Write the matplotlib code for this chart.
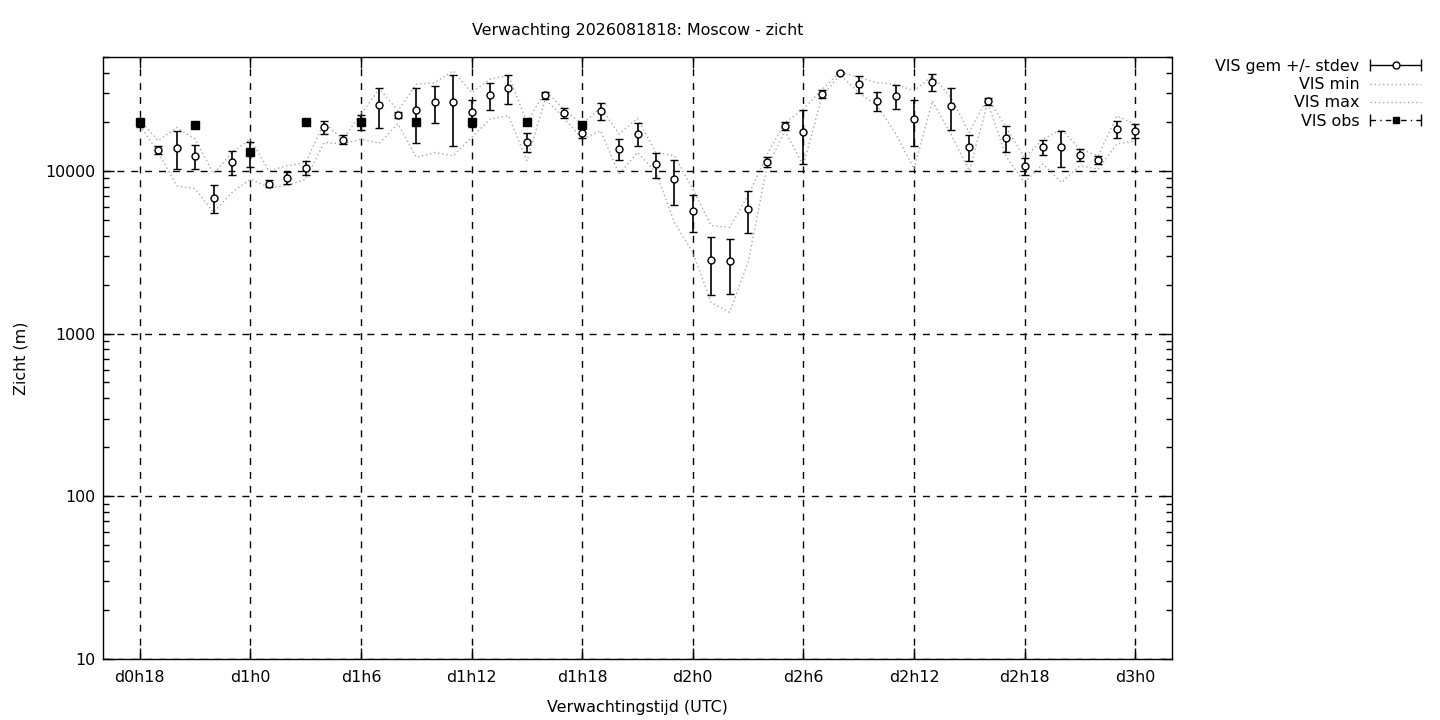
"""Ensemble visibility forecast plot (gnuplot look) for Moscow."""

import matplotlib
matplotlib.use("Agg")
import matplotlib.pyplot as plt
import numpy as np
from matplotlib.legend_handler import HandlerLine2D
from matplotlib.lines import Line2D
from matplotlib.ticker import FixedLocator, LogLocator, NullFormatter

# forecast hours since d0h0
hours = list(range(18, 73))

vis_mean = [19600, 13450, 13840, 12300, 6830, 11360, 12800, 8320, 9060, 10430,
            18540, 15490, 19950, 25290, 22060, 23550, 26480, 26480, 22900, 29140,
            32300, 15060, 29140, 22600, 17110, 23340, 13640, 16870, 10990, 8890,
            5680, 2830, 2770, 5820, 11310, 18800, 17350, 29700, 39750, 34200,
            26880, 28870, 20760, 35150, 24930, 13980, 26770, 15870, 10680, 13980,
            13980, 12480, 11680, 18020, 17530]

vis_sd = [1100, 760, 3650, 2100, 1330, 1930, 2260, 400, 710, 1020,
          1680, 980, 2110, 7000, 1030, 8660, 6800, 12300, 4260, 5470,
          6450, 2070, 1440, 1550, 1240, 2780, 2040, 2720, 1920, 2760,
          1450, 1100, 1030, 1700, 800, 1030, 6300, 1700, 500, 4200,
          3700, 4800, 6500, 4300, 7200, 2500, 1300, 2840, 1280, 1420,
          3500, 1080, 600, 2230, 1740]

vis_min = [19000, 12950, 8090, 7750, 5550, 7360, 8890, 7900, 8090, 8890,
           14920, 14590, 15640, 14800, 19430, 12070, 12950, 12360, 16020, 20760,
           21730, 11520, 27560, 21210, 15640, 17600, 9550, 12950, 9760, 4820,
           3150, 1550, 1350, 2740, 10240, 17600, 10730, 28500, 39000, 30200,
           25060, 17000, 10240, 26880, 16800, 10000, 26250, 12200, 8500, 11000,
           8480, 10730, 10240, 14590, 15290]

vis_max = [20500, 15290, 18440, 15640, 9590, 12950, 15640, 10000, 10730, 11240,
           19800, 15640, 22280, 32000, 23340, 34000, 34780, 41100, 30200, 36550,
           38650, 19800, 30960, 23900, 19340, 24440, 16800, 21000, 12950, 12360,
           7720, 4600, 4490, 7030, 12360, 19800, 23900, 31500, 40500, 37400,
           34800, 34000, 30960, 38300, 28200, 17200, 28200, 18440, 12070, 15640,
           18000, 13550, 12360, 21730, 19340]

obs_hours = [18, 21, 24, 27, 30, 33, 36, 39, 42]
vis_obs = [20000, 19200, 13000, 20000, 20000, 20000, 20000, 20000, 19000]

tick_hours = [18, 24, 30, 36, 42, 48, 54, 60, 66, 72]
tick_labels = [f"d{h // 24}h{h % 24}" for h in tick_hours]

FS = 11.4
plt.rcParams["font.family"] = ["DejaVu Sans"]
plt.rcParams["font.size"] = FS

fig = plt.figure(figsize=(14.4, 7.2), dpi=100)
ax = fig.add_axes([103 / 1440, 1 - 659 / 720, (1172 - 103) / 1440, (659 - 57) / 720])

gray = "#a8a8a8"
ax.plot(hours, vis_min, color=gray, lw=1, ls=(0, (1, 2)), zorder=2)
ax.plot(hours, vis_max, color=gray, lw=1, ls=(0, (1, 2)), zorder=2)

ax.errorbar(hours, vis_mean, yerr=vis_sd, fmt="o", ms=5, mfc="white", mec="black",
            mew=1, ecolor="black", elinewidth=1.2, capsize=3, capthick=1.2, zorder=3)
ax.plot(obs_hours, vis_obs, "s", ms=5.5, color="black", zorder=4)

ax.set_yscale("log")
ax.set_ylim(10, 50000)
ax.set_xlim(16, 74)

ax.yaxis.set_major_locator(FixedLocator([10, 100, 1000, 10000]))
ax.set_yticklabels(["10", "100", "1000", "10000"])
ax.yaxis.set_minor_locator(LogLocator(base=10, subs=np.arange(2, 10)))
ax.yaxis.set_minor_formatter(NullFormatter())
ax.set_xticks(tick_hours)
ax.set_xticklabels(tick_labels)

ax.tick_params(which="major", direction="in", length=8, width=1, top=True, right=True)
ax.tick_params(axis="x", which="major", pad=8)
ax.tick_params(axis="y", which="major", pad=5.5)
ax.tick_params(which="minor", direction="in", length=4, width=1, right=True)
ax.tick_params(axis="x", which="minor", bottom=False, top=False)

ax.grid(True, which="major", color="black", lw=1, ls=(0, (5, 5)))
for s in ax.spines.values():
    s.set_linewidth(1)

ax.set_title("Verwachting 2026081818: Moscow - zicht", fontsize=FS, pad=16)
ax.set_xlabel("Verwachtingstijd (UTC)", fontsize=FS, labelpad=11)
ax.set_ylabel("Zicht (m)", fontsize=FS, labelpad=12)

# gnuplot style legend: label on the left, sample on the right
mean_caps = Line2D([], [], color="black", lw=1, marker="|", ms=8, mew=1)
mean_mid = Line2D([], [], ls="none", marker="o", ms=5, mfc="white", mec="black")
min_line = Line2D([], [], color=gray, lw=1, ls=(0, (1, 2)))
max_line = Line2D([], [], color=gray, lw=1, ls=(0, (1, 2)))
obs_caps = Line2D([], [], color="black", lw=1, ls=(0, (4, 3, 1, 3)), marker="|", ms=8, mew=1)
obs_mid = Line2D([], [], ls="none", marker="s", ms=5, color="black")

hmap = {mean_caps: HandlerLine2D(numpoints=2, marker_pad=0),
        obs_caps: HandlerLine2D(numpoints=2, marker_pad=0),
        mean_mid: HandlerLine2D(numpoints=1),
        obs_mid: HandlerLine2D(numpoints=1)}
ax.legend([(mean_caps, mean_mid), min_line, max_line, (obs_caps, obs_mid)],
          ["VIS gem +/- stdev", "VIS min", "VIS max", "VIS obs"],
          handler_map=hmap, markerfirst=False, frameon=False,
          loc="upper right", bbox_to_anchor=(1421 / 1440, 1 - 59 / 720),
          bbox_transform=fig.transFigure, borderpad=0, borderaxespad=0,
          handlelength=3.2, handletextpad=0.7, labelspacing=0.2, fontsize=FS)

fig.savefig("out.png", dpi=100)
